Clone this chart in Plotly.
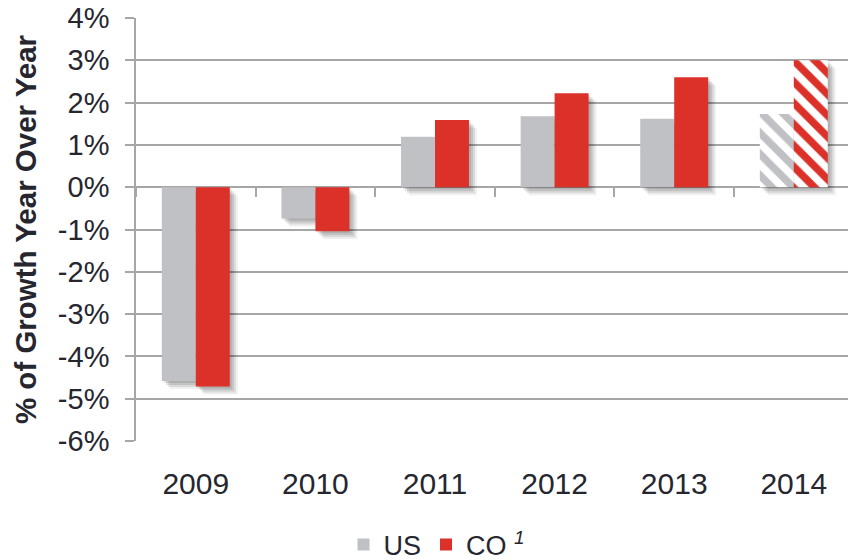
import plotly.graph_objects as go

# Year-over-year growth, US vs Colorado
years = ["2009", "2010", "2011", "2012", "2013", "2014"]
us_growth = [-4.58, -0.74, 1.19, 1.68, 1.62, 1.73]
co_growth = [-4.71, -1.04, 1.59, 2.22, 2.60, 3.00]
y_ticks = [-6, -5, -4, -3, -2, -1, 0, 1, 2, 3, 4]
y_tick_labels = ["-6%", "-5%", "-4%", "-3%", "-2%", "-1%", "0%", "1%", "2%", "3%", "4%"]
forecast = [False, False, False, False, False, True]

US_COLOR = "#c0c1c5"
CO_COLOR = "#dc3129"
TEXT = "#26262f"
GRID = "#a6a6a6"
FONT = "Liberation Sans, Arial, sans-serif"

W, H = 848, 560
M_L, M_R, M_T, M_B = 136, 0, 18, 119
PX_PER_CAT = 119.6
PX_PER_PCT = 42.3
BAR_W = 0.284
x_range = [-0.5, -0.5 + (W - M_L - M_R) / PX_PER_CAT]

fig = go.Figure()

# soft drop shadow behind each bar: stacked translucent copies shifted right/down
series = [(us_growth, -BAR_W), (co_growth, 0.0)]
for shift_px, alpha in [(2, 0.10), (4, 0.10), (6, 0.09), (8, 0.06)]:
    dx = shift_px / PX_PER_CAT
    dy = shift_px / PX_PER_PCT
    for vals, off in series:
        fig.add_trace(go.Bar(
            x=years, y=vals, base=[-dy] * len(vals),
            offset=off + dx, width=BAR_W,
            marker=dict(color=f"rgba(0,0,0,{alpha})", line=dict(width=0)),
            showlegend=False, hoverinfo="skip", xaxis="x", yaxis="y",
        ))

shapes = ["\\" if f else "" for f in forecast]
fig.add_trace(go.Bar(
    x=years, y=us_growth, name="US", offset=-BAR_W, width=BAR_W,
    marker=dict(color=US_COLOR, line=dict(width=0),
                pattern=dict(shape=shapes, fgcolor=US_COLOR, bgcolor="white",
                             size=15, solidity=0.5, fillmode="replace")),
    xaxis="x2", yaxis="y",
))
fig.add_trace(go.Bar(
    x=years, y=co_growth, name="CO <sup><i>1</i></sup>", offset=0.0, width=BAR_W,
    marker=dict(color=CO_COLOR, line=dict(width=0),
                pattern=dict(shape=shapes, fgcolor=CO_COLOR, bgcolor="white",
                             size=15, solidity=0.5, fillmode="replace")),
    xaxis="x2", yaxis="y",
))

fig.update_layout(
    width=W, height=H,
    margin=dict(l=M_L, r=M_R, t=M_T, b=M_B, pad=0, autoexpand=False),
    paper_bgcolor="white", plot_bgcolor="white",
    barmode="overlay",
    font=dict(family=FONT, color=TEXT),
    xaxis=dict(
        type="category", range=x_range, showgrid=False, zeroline=False,
        showline=False, ticks="", tickfont=dict(size=30, color=TEXT),
        ticklabelstandoff=22, automargin=False, fixedrange=True,
    ),
    xaxis2=dict(
        type="category", overlaying="x", matches="x", anchor="free",
        position=(0 - y_ticks[0]) / (y_ticks[-1] - y_ticks[0]),
        side="bottom", tickson="boundaries", ticks="outside", ticklen=9,
        tickwidth=1.5, tickcolor=GRID, showticklabels=False,
        showgrid=False, zeroline=False, showline=False, automargin=False,
    ),
    yaxis=dict(
        range=[y_ticks[0], y_ticks[-1]], tickvals=y_ticks, ticktext=y_tick_labels,
        showgrid=True, gridcolor=GRID, gridwidth=1.5, zeroline=False,
        showline=True, linecolor=GRID, linewidth=1.5,
        ticks="outside", ticklen=9, tickwidth=1.5, tickcolor=GRID,
        tickfont=dict(size=29, color=TEXT), ticklabelstandoff=10,
        automargin=False,
        title=dict(text="<b>% of Growth Year Over Year</b>",
                   font=dict(size=29.5, color=TEXT), standoff=13),
    ),
    legend=dict(
        orientation="h", x=(437 - M_L) / (W - M_L), xanchor="center",
        y=(H - M_B - 545) / (H - M_T - M_B), yanchor="middle",
        font=dict(size=27, color=TEXT), itemwidth=30, tracegroupgap=0,
        bgcolor="rgba(0,0,0,0)",
    ),
)

fig.write_html("out.html")
